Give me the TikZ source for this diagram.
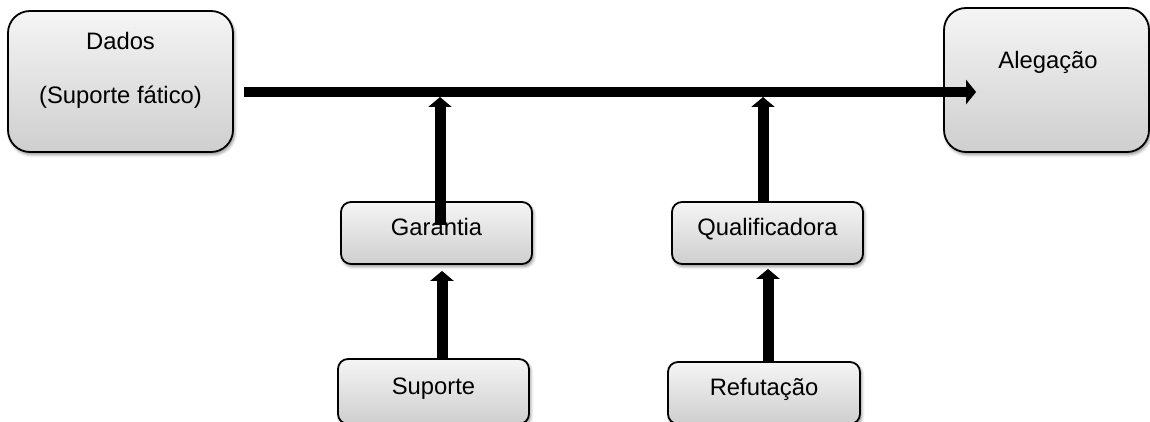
\documentclass[tikz,border=0pt]{standalone}
\usepackage{fontspec}
\setmainfont{Liberation Sans}
\usetikzlibrary{arrows.meta,shadows.blur}
\tikzset{
  basebox/.style={draw=black, line width=1.8pt, top color=white!96!black, bottom color=black!19,
    blur shadow={shadow xshift=1.5pt, shadow yshift=-2.5pt, shadow blur radius=3pt, shadow opacity=45},
    font=\fontsize{23.8}{28}\selectfont, text height=0.75em, text depth=0.2em, inner sep=0pt},
  bigbox/.style={basebox, rounded corners=22pt},
  smallbox/.style={basebox, rounded corners=10pt},
  txt/.style={font=\fontsize{23.8}{28}\selectfont, text height=0.75em, text depth=0.2em, inner sep=0pt},
  mainarrow/.style={line width=10pt, -{Triangle[length=10pt,width=24pt]}},
  uparrow/.style={line width=11pt, -{Triangle[length=10pt,width=23pt]}}
}
\begin{document}
\begin{tikzpicture}[x=1pt,y=1pt]
\useasboundingbox (0,0) rectangle (1150,421);
% boxes
\node[bigbox, minimum width=225pt, minimum height=141pt] (dados) at (120.5,339.5) {};
\node[txt] (dadosA) at ([yshift=34.7pt]dados.center) {Dados};
\node[txt] (dadosB) at ([yshift=-19pt]dados.center) {(Suporte fático)};
\node[bigbox, minimum width=205pt, minimum height=144pt] (aleg) at (1046.5,341) {};
\node[txt] (alegT) at ([xshift=1.5pt,yshift=14.5pt]aleg.center) {Alegação};
\node[smallbox, minimum width=191pt, minimum height=62pt] (gar) at (436.5,188) {Garantia};
\node[smallbox, minimum width=191pt, minimum height=62pt] (qual) at (767.5,188) {Qualificadora};
\node[smallbox, minimum width=191pt, minimum height=65pt] (sup) at (433.5,29.5) {Suporte};
\node[smallbox, minimum width=192pt, minimum height=62pt] (ref) at (764,28) {Refutação};
% junctions on main line
\coordinate (j1) at (440,324);
\coordinate (j2) at (763,324);
% main arrow
\draw[mainarrow] ([xshift=10pt,yshift=-10.5pt]dados.east) -- ([xshift=33pt,yshift=-12pt]aleg.west);
% vertical arrows
\draw[uparrow] ([xshift=3.5pt,yshift=8pt]gar.center) -- (j1);
\draw[uparrow] ([xshift=-4.5pt]qual.north) -- (j2);
\draw[uparrow] ([xshift=8.5pt,yshift=-2pt]sup.north) -- ([xshift=5.5pt,yshift=-6pt]gar.south);
\draw[uparrow] ([xshift=4pt,yshift=-1pt]ref.north) -- ([xshift=0.5pt,yshift=-4pt]qual.south);
\end{tikzpicture}
\end{document}
